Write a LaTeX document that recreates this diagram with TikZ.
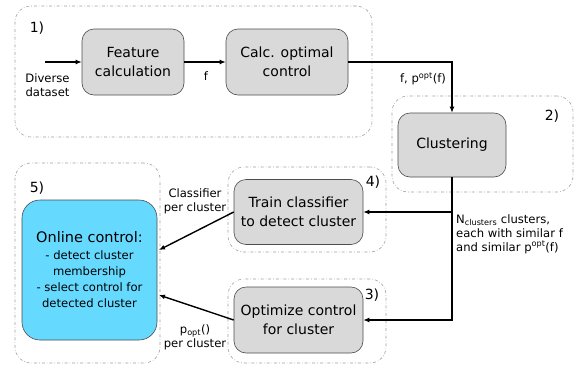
\documentclass[tikz,border=0pt]{standalone}
\usepackage{fontspec}
\setmainfont{DejaVu Sans}
\usetikzlibrary{arrows.meta}
\definecolor{boxgray}{HTML}{D9D9D9}
\definecolor{onlinecyan}{HTML}{66D9FF}
\definecolor{grpline}{HTML}{A0A0A0}
\newcommand{\bigtxt}{\fontsize{14}{19}\selectfont}
\newcommand{\smtxt}{\fontsize{11.6}{14}\selectfont}
\newcommand{\midtxt}{\fontsize{11.6}{17}\selectfont}
\tikzset{
  grp/.style={draw=grpline, line width=0.6pt, dash dot, rounded corners=16pt, inner sep=0pt},
  procbox/.style={draw=black!70, line width=0.6pt, fill=boxgray, rounded corners=12pt, align=center, inner sep=0pt, font=\bigtxt},
  conn/.style={line width=1.4pt, -{Latex[length=6pt,width=5pt]}},
  lbl/.style={align=center, inner sep=0pt, font=\smtxt},
  num/.style={inner sep=0pt, font=\bigtxt}
}
\begin{document}
\begin{tikzpicture}[x=1pt,y=-1pt]
\useasboundingbox (0,0) rectangle (578,367);
% groups
\node[grp, minimum width=357pt, minimum height=131pt] (g1) at (193.5,71.5) {};
\node[grp, minimum width=181pt, minimum height=96pt] (g2) at (482.5,144) {};
\node[grp, minimum width=158pt, minimum height=85pt] (g4) at (307,209.5) {};
\node[grp, minimum width=158pt, minimum height=84pt] (g3) at (307,321) {};
\node[grp, minimum width=145pt, minimum height=200pt] (g5) at (87.5,263) {};
% group numbers
\node[num] (n1) at (37,28) {1)};
\node[num] (n2) at (552,116) {2)};
\node[num] (n4) at (373,182) {4)};
\node[num] (n3) at (372,295) {3)};
\node[num] (n5) at (37,188) {5)};
% boxes
\node[procbox, minimum width=102pt, minimum height=66pt] (feat) at (133,62) {Feature\\calculation};
\node[procbox, minimum width=122pt, minimum height=66pt] (calc) at (287,62) {Calc. optimal\\control};
\node[procbox, minimum width=108pt, minimum height=64pt] (clust) at (452,145) {Clustering};
\node[procbox, minimum width=129pt, minimum height=65pt] (train) at (298.5,212) {Train classifier\\to detect cluster};
\node[procbox, minimum width=129pt, minimum height=66pt] (opt) at (298.5,320) {Optimize control\\for cluster};
\node[procbox, fill=onlinecyan, rounded corners=18pt, minimum width=135pt, minimum height=140pt] (online) at (89.5,270)
  {{\fontsize{14.5}{20}\selectfont Online control:}\\[-2pt]{\midtxt - detect cluster}\\[-3pt]{\midtxt membership}\\[-3pt]{\midtxt - select control for}\\[-3pt]{\midtxt detected cluster}};
% connectors
\coordinate (in) at (45,62);
\coordinate (tip1) at (159,250);
\coordinate (tip2) at (159,295);
\draw[conn] (in) -- (feat.west);
\draw[conn] (feat.east) -- (calc.west);
\draw[conn] (calc.east) -| (clust.north);
\draw[conn] (clust.south) |- (opt.east);
\draw[conn] (clust.south |- train.east) -- (train.east);
\draw[conn] (train.west) -- (tip1);
\draw[conn] (opt.west) -- (tip2);
% labels
\node[lbl] (ldiv) at (47.5,85) {Diverse\\dataset};
\node[lbl] (lf) at (206,76) {f};
\node[lbl] (lfp) at (423,79) {f, p\textsuperscript{opt}(f)};
\node[lbl] (lcls) at (195,201) {Classifier\\per cluster};
\node[lbl] (lpopt) at (195,337) {p\textsubscript{opt}()\\per cluster};
\node[lbl, align=left, anchor=north west] (lnc) at (456,214) {N\textsubscript{clusters} clusters,\\each with similar f\\and similar p\textsuperscript{opt}(f)};
\end{tikzpicture}
\end{document}
